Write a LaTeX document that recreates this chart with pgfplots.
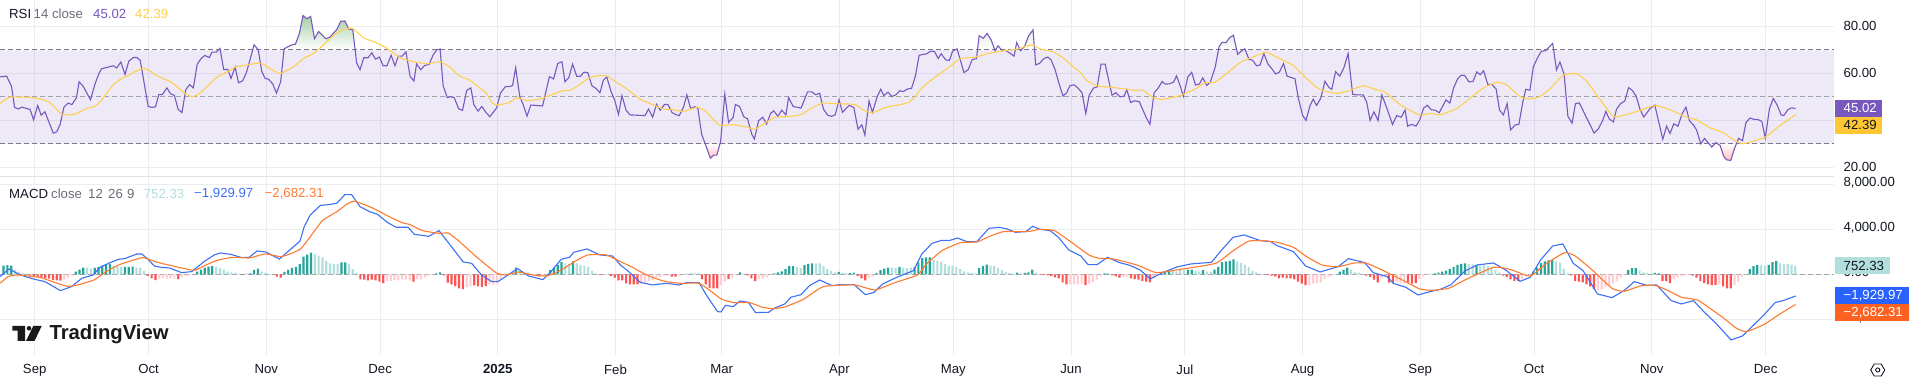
\documentclass[border=0pt]{standalone}
\usepackage{fontspec}
\setmainfont{Liberation Sans}
\usepackage{pgfplots}
\pgfplotsset{compat=1.18}
\definecolor{gridc}{HTML}{ECEDF1}
\definecolor{sepc}{HTML}{E2E3E8}
\definecolor{tick}{HTML}{131722}
\definecolor{muted}{HTML}{6A6D78}
\definecolor{rsi}{HTML}{7857BF}
\definecolor{rsisig}{HTML}{FFCF4F}
\definecolor{rsibadge}{HTML}{FFC733}
\definecolor{band}{HTML}{7E57C2}
\definecolor{dashc}{HTML}{787B86}
\definecolor{macd}{HTML}{3D6FF5}
\definecolor{sigo}{HTML}{FF7A2F}
\definecolor{blueb}{HTML}{2962FF}
\definecolor{orangeb}{HTML}{FF6120}
\definecolor{hdark}{HTML}{26A69A}
\definecolor{hlight}{HTML}{B2DFDB}
\definecolor{hred}{HTML}{FF5252}
\definecolor{hpink}{HTML}{FFCDD2}
\newcommand\fs{\fontsize{13.2}{15}\selectfont}
\newcommand\T[4][tick]{\node[anchor=west,inner sep=0pt,font=\fs,text=#1] at (#2,{382-#3}) {#4};}
\newcommand\B[7]{\fill[#5] (#1,{382-#2}) rectangle (#3,{382-#4});
  \node[anchor=west,inner sep=0pt,font=\fs,text=#6] at (1843.5,{382-(#2+#4)/2}) {#7};}
\pgfplotsset{pane/.style={
  scale only axis, width=1834pt, xmin=-9.14, xmax=474, enlargelimits=false,
  xtick={0,30,61,91,122,153,181,212,242,273,303,334,365,395,426,456},
  grid=major, major grid style={color=gridc,line width=0.9pt},
  axis line style={draw=none}, tick style={draw=none}, major tick length=0pt,
  yticklabel pos=right, anchor=south west,
  yticklabel style={font=\fs,text=tick,anchor=west,xshift=6pt},
  xticklabel style={font=\fs,text=tick},
}}
\begin{document}
\begin{tikzpicture}[x=1pt,y=1pt]
\path[use as bounding box] (0,0) rectangle (1917,382);
\begin{axis}[pane, at={(0pt,205.3pt)}, height=176.7pt, ymin=16, ymax=91.19,
  ytick={20,40,60,80}, yticklabels={20.00,,60.00,80.00}, xticklabel=\empty]
\addplot[draw=none,fill=band,fill opacity=0.13] coordinates {(-9.14,30)(474,30)(474,70)(-9.14,70)} --cycle;
\addplot[draw=none,top color=green!45!black!35!white,bottom color=white] coordinates {(65.6,70)(65.7,70.4)(66.8,71.4)(67.8,72.1)(68.7,72.4)(69.7,76.8)(70.7,84.6)(71.7,83.2)(72.7,84.2)(73.7,74.7)(74.8,77.8)(76.7,74.7)(77.8,75.4)(79.7,78.9)(80.6,82.1)(81.7,82.3)(82.7,78.9)(83.8,78.5)(84.2,70)} --cycle;
\addplot[draw=none,top color=green!30!black!10!white,bottom color=white] coordinates {(248.4,70)(248.8,76)(249.9,74.9)(250.9,77)(252,74.1)(252.8,70)} --cycle;
\addplot[draw=none,top color=green!30!black!10!white,bottom color=white] coordinates {(260.3,70)(260.8,71.5)(261.8,75.8)(263,78.5)(263.3,70)} --cycle;
\addplot[draw=none,top color=green!30!black!10!white,bottom color=white] coordinates {(311.9,70)(312,71.2)(312.8,73.2)(313.8,73)(314.9,75.3)(315.8,76.2)(316.5,70)} --cycle;
\addplot[draw=none,top color=white,bottom color=red!25] coordinates {(176.5,30)(176.8,29.3)(178,23.9)(178.9,25.2)(179.7,25.2)(180.5,30)} --cycle;
\addplot[draw=none,top color=white,bottom color=red!25] coordinates {(443.6,30)(444,29.3)(445,24.5)(445.7,23.2)(446.8,22.9)(447.9,28.5)(448.3,30)} --cycle;
\addplot[dashc,line width=0.9pt,dash pattern=on 5pt off 3pt] coordinates {(-9.14,70)(474,70)};
\addplot[dashc,line width=0.9pt,dash pattern=on 5pt off 3pt] coordinates {(-9.14,30)(474,30)};
\addplot[dashc!70,line width=0.8pt,dash pattern=on 5pt off 3pt] coordinates {(-9.14,50)(474,50)};
\addplot[rsi,line width=1.1pt] coordinates {
(-9.1,58.5)(-7.4,58.8)(-6.1,54.4)(-5.3,45.5)(-4.3,44.8)(-3.4,45.6)(-1.2,44.6)(-0.3,40.2)(0.8,46.3)(1.7,42.2)(2.7,43.6)(4.9,34.5)(5.8,35.1)(6.7,38.2)(7.7,45.6)(8.8,47.3)(9.8,46.7)(11,49.6)(11.7,56.4)(12.8,54.4)(14.7,48.7)(15.9,55.5)(16.9,59.8)(17.6,61.9)(20.7,63.2)(21.6,62.3)(22.7,64.8)(23.8,59.5)(24.8,65.2)(26,66.7)(26.9,66.7)(27.8,65.5)(29.9,45.9)(30.8,45.5)(31.8,45.7)(32.7,50.9)(33.7,51)(34.8,53.8)(35.8,51.3)(36.8,50.6)(37.8,44.6)(38.8,43.3)(39.8,53)(40.8,55.2)(41.8,53.8)(42.8,63.8)(43.8,66.2)(44.8,67.6)(46,66.7)(46.7,69)(47.8,69)(48.8,70.6)(49.8,61.6)(50.9,61.6)(51.7,57.8)(52.8,62.6)(53.7,56)(54.8,56.8)(55.8,60.4)(57.8,72.1)(58.9,70)(59.8,60.9)(60.7,57.8)(61.6,57.5)(62.7,55.5)(63.7,51.6)(64.8,56.4)(65.7,70.4)(66.8,71.4)(67.8,72.1)(68.7,72.4)(69.7,76.8)(70.7,84.6)(71.7,83.2)(72.7,84.2)(73.7,74.7)(74.8,77.8)(76.7,74.7)(77.8,75.4)(79.7,78.9)(80.6,82.1)(81.7,82.3)(82.7,78.9)(83.8,78.5)(84.8,64.5)(85.7,61.5)(86.7,66.6)(87.8,66.6)(88.8,68.7)(89.8,66)(90.8,66.9)(91.8,63.2)(92.8,63.2)(93.9,67.7)(94.9,63.2)(95.8,67.3)(96.8,67.3)(97.8,69.1)(98.9,58.7)(99.9,56.7)(100.6,64)(101.7,61.5)(102.7,63.3)(103.9,63.8)(105,67.9)(105.9,70)(106.8,70.3)(107.6,54.7)(108.7,49.6)
(109.4,50)(110.5,49.7)(111.7,44.9)(112.7,44.2)(113.8,52.7)(114.9,53.8)(115.7,46.6)(116.8,43.9)(117.8,45.9)(118.9,43.3)(119.9,41.5)(121.7,45.3)(122.7,51.6)(124,54.3)(125,54.3)(125.9,54.8)(126.7,62.3)(127.8,50)(128.7,46.6)(129.7,41.8)(130.7,46.5)(133.8,46.1)(135.6,58.6)(136.7,57.6)(137.8,64.2)(138.9,64.9)(139.7,56.4)(140.7,58.1)(141.7,63.9)(142.8,58.7)(143.7,58.7)(144.7,60.5)(145.7,60.3)(146.8,54.7)(147.9,53.5)(148.9,51.7)(149.8,57)(150.7,58.5)(151.8,52.4)(152.8,48.5)(153.8,42.5)(154.7,50.5)(155.8,44.3)(156.8,42.3)(160.8,42)(161.7,44.8)(162.8,41.3)(163.8,46.8)(164.8,44.3)(165.9,46.7)(166.8,46.8)(167.9,43.3)(168.9,42.4)(169.8,42)(170.9,45.5)(171.8,50.8)(172.8,45)(173.9,45.8)(174.7,45.1)(175.7,34.1)(176.8,29.3)(178,23.9)(178.9,25.2)(179.7,25.2)(180.7,31)(181.8,51.1)(182.8,39.1)(184,41.2)(184.6,46.7)(185.7,45.9)(186.8,41.5)(187.8,40.6)(188.9,34.1)(189.6,32)(190.7,39.8)(191.8,41.3)(192.8,38.4)(193.9,43)(194.7,44)(195.8,41.7)(196.8,44.3)(197.9,42.3)(198.6,49.7)(199.8,45.9)(201.9,45.2)(203.6,52.1)(204.7,52.1)(205.7,50.9)(206.8,51.5)(207.8,44.7)(208.9,42.2)(209.9,41.7)(210.9,42.3)(211.9,48.8)(212.8,43.4)(214.6,46.4)(215.8,45.4)(216.9,36.2)(217.9,38.1)(218.7,33.7)(219.8,48.2)(220.7,43.4)(222,50.3)(222.9,53.2)(223.7,50.5)(224.8,52)(225.8,50.1)(226.9,50.9)(227.9,52.6)
(228.8,52.2)(229.9,53.3)(231,53.6)(232,58.7)(233,67.7)(235,68.3)(235.9,69.3)(237,69.4)(238,66.3)(238.8,68.3)(240,65.7)(241,65.5)(241.8,69.4)(243,70.4)(244.8,60.3)(245.9,61.5)(247,65.9)(248.1,66.2)(248.8,76)(249.9,74.9)(250.9,77)(252,74.1)(253,69.6)(253.8,71.7)(254.8,69.7)(256,69.6)(258,67.3)(258.7,73.1)(259.7,69.6)(260.8,71.5)(261.8,75.8)(263,78.5)(263.7,63.6)(264.7,64.2)(265.9,66.3)(266.9,66.9)(267.8,65.6)(268.8,61.6)(270,54.8)(270.9,50.3)(271.9,51.8)(272.7,54.7)(273.8,55.1)(274.8,53.8)(275.9,51.7)(276.9,42.9)(277.8,50.7)(278.9,53.7)(279.9,54.2)(280.9,63.9)(282,63.9)(283.8,50.7)(284.8,51.7)(285.9,50)(287,50.3)(287.7,53.1)(288.7,47.6)(289.8,48.3)(291,47.9)(292.8,41.2)(293.8,38.3)(294.9,51.7)(296,53.8)(297,56.5)(297.8,55.4)(298.9,55.5)(300,56.2)(300.8,58.9)(301.7,55)(302.6,50.2)(303.8,58.5)(304.8,60.4)(305.8,55)(306.8,55.4)(307.7,58.1)(308.8,54.8)(309.7,56.2)(311,62.7)(312,71.2)(312.8,73.2)(313.8,73)(314.9,75.3)(315.8,76.2)(316.9,68.1)(318,69.6)(318.8,70.4)(319.9,65.9)(320.8,65.6)(321.9,63.2)(322.8,63.5)(323.8,68.4)(324.9,63.9)(325.8,62.2)(326.9,59.7)(327.9,60.5)(329,64.2)(329.9,58.8)(331,58.2)(332,57.7)(332.9,49.3)(334,42.2)(334.9,39.9)(336,46.4)(336.8,49)(337.7,46.3)(338.8,49.4)(339.9,56.6)(341,53.9)(341.7,53.2)(342.7,60.7)(343.8,58.8)(344.9,62.4)(346,68.4)
(347.2,51.1)(348.3,50.8)(350,50.8)(350.9,47.7)(351.8,39.9)(352.8,43.6)(353.9,39.9)(354.9,50.8)(356.2,45.2)(357.7,38.2)(358.8,42)(360,41.3)(361,44.4)(361.7,37.5)(362.7,38.3)(363.9,37.5)(364.9,40.3)(365.9,45.2)(366.9,46.4)(367.9,44.5)(369,44.3)(370,43.2)(371.8,48.7)(372.8,47.3)(373.8,53.8)(374.9,57.8)(375.8,59.2)(376.7,59.1)(377.8,56.4)(378.9,56.5)(379.9,60.6)(380.8,59.4)(381.7,61.1)(382.8,55.3)(383.9,55.2)(385,53.3)(385.9,44.3)(386.9,42.3)(387.9,47.1)(388.8,35.9)(390,38)(391,38.3)(392,47.5)(392.8,53.2)(393.9,52.8)(394.8,62.8)(395.9,66.6)(396.9,69.4)(398,69.6)(399.9,72.7)(400.9,61.4)(401.8,64.8)(402.9,59.6)(403.9,41.7)(405,38.8)(405.9,47.1)(406.9,47.4)(410.8,34.6)(411.9,36.3)(413,39.7)(413.9,43.8)(414.8,40.6)(415.9,39.3)(416.7,44.7)(417.8,47.1)(418.9,48.2)(419.9,53.9)(420.9,52.7)(421.9,50.2)(422.9,44.7)(423.9,41.4)(425.5,44.9)(426.8,46.5)(428.9,31.9)(429.9,37.5)(430.8,34.4)(431.8,38.5)(432.9,37.5)(434,42.8)(435,45.6)(435.9,39.9)(437,37.9)(437.8,35.9)(438.9,30)(439.9,32.3)(441.8,28.6)(442.9,30.5)(444,29.3)(445,24.5)(445.7,23.2)(446.8,22.9)(447.9,28.5)(448.9,32.3)(449.9,31.3)(450.8,39)(451.9,41)(452.9,40.4)(454,40.3)(455,39.5)(455.9,32.5)(457,44.9)(458,49.3)(459,46.6)(460.1,42.2)(460.8,42.1)(461.9,44.6)(462.9,45.3)(463.9,45.02)};
\addplot[rsisig,line width=1.1pt,smooth,tension=0.3] coordinates {
(-9.1,47.2)(-7.8,48.7)(-6.5,49.9)(-3.9,49.9)(-0.8,49.6)(1.8,49)(3.9,47.6)(5.4,45.3)(7.1,42.5)(8.9,42.3)(10.9,42.8)(12.4,44)(13.9,45.2)(15.5,45.7)(17.2,47.7)(19,51.6)(20.7,55.1)(22.5,57.4)(24.7,59.1)(26.9,61.1)(28.4,62.1)(29.9,61.5)(32.1,59.1)(33.9,57.7)(36.1,56.1)(37.8,53.8)(39.6,51.4)(41.6,50)(43.5,51.6)(45.7,54.7)(47.9,58.2)(50.1,60.2)(51.4,61.1)(52.8,62.6)(55.8,63.5)(58.5,64.3)(60.2,63.9)(62.4,61.6)(64.6,59.9)(66.8,61.5)(68.6,63.3)(70.8,66.3)(73,68)(74.7,70)(77.3,74)(79.5,77.1)(81.7,78.8)(83.5,79.2)(85.2,77.2)(86.7,75)(89.6,73.3)(92.3,71.1)(94.5,68.7)(96.7,66.3)(99.7,65)(103.2,64)(106.8,64.9)(109.4,62.6)
(111.9,58.8)(114.5,57.2)(117.1,54)(119.1,51.3)(120.6,47.2)(122.1,46.6)(124.8,47.4)(127,49.6)(129.6,48.4)(132.7,48.9)(134.9,50.1)(139.3,52.7)(140.8,52.6)(143.2,54.8)(145.8,57.8)(148,58.9)(150.7,58.9)(153.3,56.1)(155.9,53.4)(159.6,48.9)(163,46.6)(165.6,44.8)(168.2,44.5)(170.9,43.8)(174.4,45.5)(176.6,44.2)(178.3,41.1)(180.5,37.9)(184,38.1)(187.5,37.2)(189.7,36.2)(192.8,39.2)(195,41.3)(199,41.6)(202,42.5)(204.7,45.3)(207.7,47.3)(212.1,47)(216.1,46.7)(218.7,44)(220.9,43.3)(224.4,45.6)(227.9,46.6)
(230.1,47.6)(231.9,50.1)(234.1,54.4)(237.6,58.8)(241.1,62.9)(243.8,66.2)(247.7,66.9)(251.7,68.6)(255.2,69.6)(258.7,70.3)(262.6,72.1)(264.8,70.4)(268.3,69.1)(271,66.5)(273.2,63.3)(275.4,60.5)(277.1,57)(279.8,54.7)(285,53.8)(289.4,52.8)(292,52.7)(294.7,49.6)(296.9,48.9)(300.8,50.1)(303.5,51.7)(306.1,53.7)(308.3,56)(310.9,56.2)(314.4,60.4)(317.5,64.6)(321,66.9)(324.4,69)(328,66.2)(331.6,63.3)(335.1,57.7)(338.6,53.1)(343,51.4)(346.5,52.7)
(350,54.7)(353.5,53)(355.7,52)(360.1,46.2)(364.9,42.2)(367.6,43)(370.2,42.3)(374.6,45)(378.1,49.4)(381.6,53.7)(385.1,56.2)(387.8,55)(391.3,50.1)(393.9,49.1)(396.5,50.1)(399.2,53.4)(402.7,59.2)(406.2,59.8)(408.8,56.7)(411.9,49.9)(415.9,41.6)(419.4,42.5)(422.9,44.2)(426.8,46.3)(430.8,44.5)(435.2,41.3)(437.8,40.2)(441.3,36.8)(444.8,34.8)(447.5,31.7)(450.1,30)(455.8,32.8)(459.8,37.8)(463.9,42.39)};
\end{axis}
\begin{axis}[pane, at={(0pt,27pt)}, height=178pt, ymin=-7174, ymax=8650,
  ytick={-4000,0,4000,8000}, yticklabels={{−4,000.00},{0.00},{4,000.00},{8,000.00}},
  yticklabel style={yshift=2pt},
  xticklabels={Sep,Oct,Nov,Dec,\textbf{2025},Feb,Mar,Apr,May,Jun,Jul,Aug,Sep,Oct,Nov,Dec},
  xticklabel style={yshift=-6pt}]
\addplot[dashc!70,line width=0.8pt,dash pattern=on 5pt off 3pt] coordinates {(-9.14,0)(474,0)};
\addplot[ybar,bar width=2.2pt,bar shift=0pt,draw=none,fill=hlight] coordinates {(-5.2,420)(-4.2,240)(-3.2,120)(-2.2,60)(13.8,600)(14.8,510)(20.8,780)(21.8,720)(22.8,660)(26.8,600)(27.8,600)(28.8,300)(47.8,690)(48.8,540)(49.8,420)(50.8,240)(51.8,180)(52.8,150)(53.8,60)(55.8,90)(59.8,240)(60.8,150)(61.8,60)(73.8,1800)(74.8,1650)(75.8,1500)(76.8,1200)(77.8,960)(78.8,900)(79.8,900)(82.8,900)(83.8,450)(84.8,150)(124.8,90)(125.8,240)(127.8,300)(128.8,180)(129.8,180)(139.8,960)(140.8,900)(142.8,960)(143.8,840)(144.8,780)(145.8,660)(146.8,300)(147.8,90)(171.8,90)(172.8,150)(173.8,150)(174.8,90)(186.8,90)(200.8,660)(201.8,540)(205.8,960)(206.8,960)(207.8,750)(208.8,450)(209.8,300)(210.8,180)(212.8,150)(213.8,120)(225.8,600)(226.8,600)(228.8,600)(229.8,540)(230.8,600)(236.8,1260)(237.8,1200)(238.8,1080)(239.8,900)(240.8,750)(241.8,720)(242.8,660)(243.8,450)(244.8,270)(245.8,180)(246.8,120)(247.8,90)(251.8,780)(252.8,720)(253.8,570)(254.8,390)(255.8,210)(256.8,120)(257.8,60)(259.8,90)(263.8,150)(299.8,300)(300.8,270)(301.8,360)(302.8,360)(305.8,300)(306.8,240)(308.8,240)(309.8,240)(316.8,1140)(317.8,1020)(318.8,840)(319.8,660)(320.8,300)(321.8,180)(322.8,60)(342.8,60)(346.8,420)(347.8,180)(348.8,120)(349.8,30)(367.8,60)(377.8,900)(378.8,900)(380.8,780)(381.8,840)(382.8,720)(383.8,540)(384.8,420)(385.8,180)(400.8,1140)(401.8,1020)(402.8,480)(403.8,90)(422.8,330)(423.8,180)(424.8,120)(425.8,90)(454.8,840)(455.8,720)(459.8,960)(460.8,900)(461.8,900)(462.8,870)(463.8,752.33)};
\addplot[ybar,bar width=2.2pt,bar shift=0pt,draw=none,fill=hdark] coordinates {(-8.2,780)(-7.2,810)(-6.2,780)(10.8,240)(11.8,420)(12.8,600)(15.8,570)(16.8,660)(17.8,780)(18.8,900)(19.8,900)(23.8,660)(24.8,660)(25.8,690)(42.8,240)(43.8,420)(44.8,600)(45.8,690)(46.8,720)(56.8,90)(57.8,390)(58.8,510)(65.8,210)(66.8,390)(67.8,570)(68.8,660)(69.8,900)(70.8,1560)(71.8,1740)(72.8,1920)(80.8,1050)(81.8,1050)(105.8,90)(106.8,180)(126.8,600)(135.8,360)(136.8,600)(137.8,840)(138.8,1080)(141.8,1140)(185.8,180)(194.8,90)(195.8,180)(196.8,270)(197.8,450)(198.8,720)(199.8,720)(202.8,810)(203.8,930)(204.8,960)(211.8,210)(214.8,120)(215.8,150)(221.8,120)(222.8,360)(223.8,510)(224.8,600)(227.8,660)(231.8,660)(232.8,1050)(233.8,1440)(234.8,1500)(235.8,1500)(248.8,540)(249.8,750)(250.8,870)(258.8,150)(260.8,120)(261.8,180)(262.8,420)(281.8,90)(282.8,60)(296.8,150)(297.8,270)(298.8,300)(303.8,420)(304.8,420)(307.8,360)(310.8,420)(311.8,660)(312.8,1080)(313.8,1140)(314.8,1200)(315.8,1320)(343.8,240)(344.8,390)(345.8,600)(368.8,90)(369.8,150)(370.8,240)(371.8,330)(372.8,480)(373.8,660)(374.8,840)(375.8,930)(376.8,960)(379.8,840)(394.8,240)(395.8,600)(396.8,990)(397.8,1140)(398.8,1230)(399.8,1260)(419.8,390)(420.8,540)(421.8,540)(426.8,120)(427.8,90)(451.8,450)(452.8,720)(453.8,840)(456.8,840)(457.8,1080)(458.8,1200)};
\addplot[ybar,bar width=2.2pt,bar shift=0pt,draw=none,fill=hpink] coordinates {(7.8,-480)(8.8,-300)(9.8,-120)(32.8,-390)(33.8,-330)(34.8,-390)(35.8,-360)(36.8,-390)(38.8,-270)(39.8,-150)(40.8,-90)(92.8,-600)(93.8,-600)(94.8,-540)(95.8,-510)(96.8,-480)(97.8,-480)(98.8,-540)(100.8,-450)(101.8,-450)(102.8,-300)(103.8,-120)(104.8,-30)(113.8,-1140)(114.8,-1020)(119.8,-900)(120.8,-900)(121.8,-840)(122.8,-390)(123.8,-90)(131.8,-120)(133.8,-180)(134.8,-90)(149.8,-30)(150.8,-60)(159.8,-840)(160.8,-750)(161.8,-600)(162.8,-540)(163.8,-300)(164.8,-240)(165.8,-180)(166.8,-150)(169.8,-150)(170.8,-30)(180.8,-960)(181.8,-660)(183.8,-360)(184.8,-90)(190.8,-450)(191.8,-390)(192.8,-300)(193.8,-60)(219.8,-300)(220.8,-180)(272.8,-900)(273.8,-900)(274.8,-900)(275.8,-840)(277.8,-840)(278.8,-720)(279.8,-480)(280.8,-150)(286.8,-240)(287.8,-180)(294.8,-300)(295.8,-120)(335.8,-960)(336.8,-840)(337.8,-780)(338.8,-720)(339.8,-420)(340.8,-240)(341.8,-120)(354.8,-360)(355.8,-210)(358.8,-720)(359.8,-840)(360.8,-780)(364.8,-420)(365.8,-180)(366.8,-60)(391.8,-450)(392.8,-180)(393.8,-60)(411.8,-1440)(412.8,-1320)(413.8,-1140)(414.8,-990)(415.8,-840)(416.8,-600)(417.8,-300)(418.8,-90)(431.8,-450)(432.8,-300)(433.8,-180)(434.8,-120)(435.8,-60)(443.8,-900)(447.8,-960)(448.8,-660)(449.8,-240)(450.8,-30)};
\addplot[ybar,bar width=2.2pt,bar shift=0pt,draw=none,fill=hred] coordinates {(-1.2,-120)(-0.2,-150)(0.8,-210)(1.8,-270)(2.8,-330)(3.8,-390)(4.8,-510)(5.8,-540)(6.8,-570)(29.8,-150)(30.8,-360)(31.8,-510)(37.8,-420)(54.8,-60)(62.8,-30)(63.8,-210)(64.8,-300)(85.8,-450)(86.8,-480)(87.8,-540)(88.8,-480)(89.8,-540)(90.8,-660)(91.8,-780)(99.8,-660)(107.8,-90)(108.8,-750)(109.8,-900)(110.8,-1050)(111.8,-1260)(112.8,-1320)(115.8,-990)(116.8,-1080)(117.8,-1110)(118.8,-1050)(130.8,-60)(132.8,-180)(148.8,-60)(151.8,-150)(152.8,-300)(153.8,-540)(154.8,-540)(155.8,-810)(156.8,-900)(157.8,-900)(158.8,-900)(167.8,-210)(168.8,-210)(175.8,-450)(176.8,-900)(177.8,-1200)(178.8,-1260)(179.8,-1260)(182.8,-420)(187.8,-90)(188.8,-360)(189.8,-600)(216.8,-150)(217.8,-360)(218.8,-540)(264.8,-30)(265.8,-60)(266.8,-90)(267.8,-150)(268.8,-270)(269.8,-360)(270.8,-720)(271.8,-900)(276.8,-960)(283.8,-90)(284.8,-180)(285.8,-300)(288.8,-360)(289.8,-420)(290.8,-480)(291.8,-600)(292.8,-660)(293.8,-720)(323.8,-30)(324.8,-60)(325.8,-120)(326.8,-180)(327.8,-360)(328.8,-300)(329.8,-360)(330.8,-360)(331.8,-450)(332.8,-660)(333.8,-840)(334.8,-960)(350.8,-120)(351.8,-240)(352.8,-480)(353.8,-720)(356.8,-750)(357.8,-780)(361.8,-750)(362.8,-840)(363.8,-780)(386.8,-120)(387.8,-240)(388.8,-450)(389.8,-600)(390.8,-600)(404.8,-90)(405.8,-600)(406.8,-660)(407.8,-720)(408.8,-900)(409.8,-1080)(410.8,-1320)(428.8,-600)(429.8,-600)(430.8,-780)(436.8,-120)(437.8,-300)(438.8,-600)(439.8,-780)(440.8,-900)(441.8,-960)(442.8,-930)(444.8,-1080)(445.8,-1260)(446.8,-1260)};
\addplot[macd,line width=1.1pt] coordinates {
(-9.1,-207)(-6.8,474)(-4.3,30)(-2.7,-178)(0,-444)(2.7,-652)(6.8,-1452)(9.7,-1096)(12.4,-356)(15.4,-59)(17.2,622)(19.9,1037)(22.1,1333)(23.7,1393)(26.9,1807)(28.2,1807)(29.8,1363)(31.5,741)(33.3,622)(35.5,563)(38.7,148)(41.4,237)(44.6,1126)(47.3,1718)(48.9,1896)(51.6,1778)(54.3,1511)(56.5,1511)(58.6,2074)(60.8,1985)(64.5,1363)(67.7,2311)(69.9,2963)(71,4237)(72.6,5274)(75.3,6133)(77.4,6193)(79.6,6311)(81.7,7082)(83.5,7082)(85.7,6015)(88.2,5570)(90.3,5333)(93,4593)(95.2,4178)(98.4,4178)(100,3556)(103.8,3378)(106.5,3882)(109.1,2756)(112.9,1096)(115.1,978)(117.7,-59)(120.4,-652)(122,-652)(124.7,-59)(127.2,504)(130.1,-148)(133.9,-474)(136,237)(138.7,1333)(140.9,1511)(142,1956)(145.5,2252)(148.9,1718)(152.2,1630)(154.3,830)(156.5,237)(159.5,-711)
(162.7,-948)(166.5,-800)(169.7,-948)(171.8,-741)(175,-741)(177.2,-1985)(179.9,-3319)(180.8,-3348)(182,-2756)(184,-2874)(185.8,-2370)(188,-2489)(189.9,-3407)(193.3,-3378)(195,-2993)(197.6,-2637)(199.2,-2044)(201.9,-1807)(204.1,-1007)(206.8,-504)(210,-1007)(212.2,-919)(215.9,-919)(218.8,-1807)(221,-1630)(223.4,-859)(226.7,-326)(231.5,326)(233.7,1807)(236.4,2756)(239,3022)(241.2,3022)(243.1,3230)(245.5,2904)(248.2,2904)(251.4,4089)(254.1,4178)(256.2,4030)(258.4,3733)(261.1,3793)(262.9,4267)(264.8,4000)(267.5,3882)(269.7,3289)(272.4,2163)(275.6,1630)(277.5,859)(279.9,859)(282.6,1511)(285.8,1037)(288.5,800)(291.2,385)(293.9,-415)(297.1,148)(301.2,681)(304.6,919)(310,1067)(312.7,2163)(315.7,3289)(318.6,3496)(322.9,2993)(325.6,2904)(327.3,2548)
(331.6,2015)(334.8,741)(338.6,207)(343.4,681)(346.1,1393)(350.4,1037)(352.6,148)(356.3,-207)(357.9,-800)(361.2,-1156)(364.4,-1837)(367.6,-1541)(370.3,-1333)(373,-948)(376.8,296)(380,830)(384.3,1007)(387.5,385)(391.3,-622)(394,-267)(396.7,1274)(399.9,2519)(402.6,2696)(405.3,978)(407.9,326)(411.7,-1748)(415.5,-2074)(418.7,-1452)(421.4,-652)(424.6,-978)(427.3,-948)(431.1,-2341)(433.8,-2637)(437,-2341)(439.7,-3319)(442.9,-4356)(446.9,-5837)(449.9,-5481)(455.3,-3704)(458.5,-2519)(460.6,-2341)(463.9,-1929.97)};
\addplot[sigo,line width=1.1pt,smooth,tension=0.3] coordinates {
(-9.1,-800)(-7,-207)(-4.8,-59)(-2.7,-119)(1.6,-296)(5.4,-741)(8.6,-1067)(11.3,-948)(15.6,-504)(18.8,237)(22.1,830)(25.3,1185)(28.5,1482)(32.3,1067)(37.1,681)(42,356)(44.6,741)(47.8,1215)(52.2,1511)(56.5,1452)(60.8,1807)(65.1,1570)(69.9,2222)(72.6,3348)(75.8,4770)(79.6,5570)(82.3,6252)(84.4,6489)(89.2,5867)(93,5185)(96.8,4593)(98.9,4415)(102.2,3882)(106.5,3644)(109.1,3644)(112.4,2756)(116.1,1630)(121.5,148)(124.2,-59)(127.4,207)(131.2,-59)(135,-148)(138.7,385)(142.5,1185)(145.7,1718)(150.5,1718)(154.3,1126)(157.5,622)(159.5,237)
(162.2,-207)(165.9,-622)(170.2,-800)(175,-800)(178.3,-1541)(181,-2222)(184.2,-2519)(188.3,-2519)(191.7,-2933)(194.4,-3052)(197.6,-2904)(202.5,-2222)(207.8,-1096)(215.9,-948)(221.3,-1393)(226.1,-800)(232.6,-59)(234.7,830)(239,2104)(243.9,2815)(248.2,2874)(251.4,3348)(255.2,3793)(261.6,3793)(264.8,4000)(268.6,3882)(272.9,2904)(277.7,1718)(280.4,1422)(284.2,1363)(290.6,800)(295.5,148)(301.9,444)(311.1,978)(315.4,2015)(319.7,2933)(323.4,2993)(327.3,2844)
(331.6,2400)(334.8,1630)(339.1,830)(343.4,681)(347.7,1007)(350.9,978)(355.3,326)(360.6,-563)(364.9,-1304)(368.2,-1422)(372.5,-1244)(376.8,-504)(384.3,622)(388.6,444)(394,-148)(398.3,978)(403.1,1926)(405.8,1630)(410.1,444)(415.5,-1244)(418.7,-1511)(423,-1037)(426.8,-978)(430.5,-1481)(433.8,-2044)(438,-2281)(441.3,-3022)(445,-3911)(448.3,-4800)(451,-5096)(455.8,-4415)(459.6,-3556)(463.9,-2682.31)};
\end{axis}
% pane separator
\draw[color=sepc,line width=1.4pt] (0,{382-176.7}) -- (1834,{382-176.7});
% legends
\T{9}{13.5}{RSI}
\T[muted]{33.5}{13.5}{14 close}
\T[rsi]{93}{13.5}{45.02}
\T[rsisig]{135}{13.5}{42.39}
\T{9}{194}{MACD}
\T[muted]{51}{194}{close}
\T[muted]{88}{194}{12}
\T[muted]{108}{194}{26}
\T[muted]{127}{194}{9}
\T[hlight]{143.7}{194}{752.33}
\T[macd]{194}{194}{−1,929.97}
\T[sigo]{264.5}{194}{−2,682.31}
% price badges
\B{1835}{100}{1881.5}{116.7}{rsi}{white}{45.02}
\B{1835}{116.7}{1881.5}{133.7}{rsibadge}{tick}{42.39}
\B{1835}{257.3}{1890}{274}{hlight}{tick}{752.33}
\B{1835}{287}{1909}{304}{blueb}{white}{−1,929.97}
\B{1835}{304}{1909}{320.7}{orangeb}{white}{−2,682.31}
% logo
\fill[black!90] (12.3,{382-326}) -- (25,{382-326}) -- (25,{382-341}) -- (17.7,{382-341}) -- (17.7,{382-330.7}) -- (12.3,{382-330.7}) -- cycle;
\fill[black!90] (29,{382-328.3}) circle (2.3);
\fill[black!90] (33.3,{382-326}) -- (41.7,{382-326}) -- (34.5,{382-341}) -- (26,{382-341}) -- cycle;
\node[anchor=west,inner sep=0pt,font=\fontsize{20.3}{22}\selectfont\bfseries,text=black!90] at (49.3,{382-334}) {TradingView};
% settings icon
\draw[tick,line width=0.9pt] (1870.7,{382-370}) -- (1874.2,{382-364}) -- (1881.2,{382-364}) -- (1884.7,{382-370}) -- (1881.2,{382-376}) -- (1874.2,{382-376}) -- cycle;
\draw[tick,line width=0.9pt] (1877.7,{382-370}) circle (2.1);
\end{tikzpicture}
\end{document}
